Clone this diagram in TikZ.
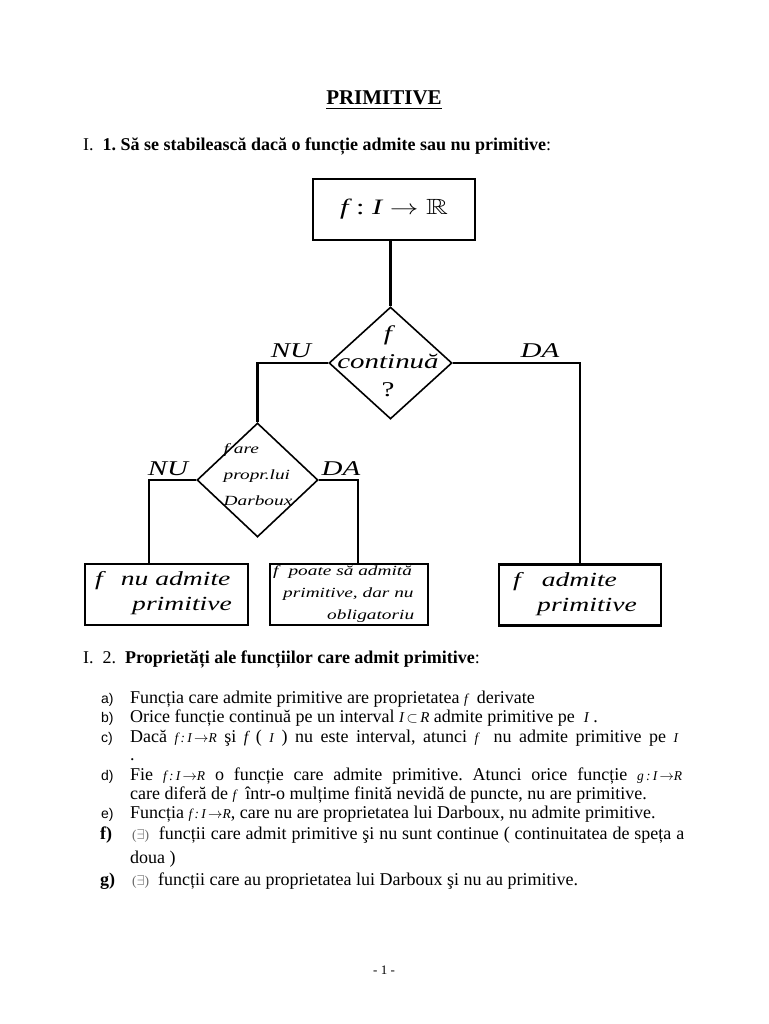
\documentclass[tikz,border=0pt]{standalone}
\usepackage{amssymb}
\usepackage{graphicx}
\usepackage{fontspec}
\setmainfont{Liberation Serif}
\newfontfamily\chartfont[FakeStretch=1.38]{Liberation Serif}
\newfontfamily\labelfont{Liberation Sans}
\usetikzlibrary{shapes.geometric,positioning}
\frenchspacing

\newcommand{\mi}[1]{{\fontsize{13.5}{16}\selectfont\itshape #1}}
\newcommand{\fmap}[1]{{\fontsize{13.5}{16}\selectfont\itshape #1\,:\,I\,$\rightarrow$R}}
\newcommand{\exsym}{{\fontsize{13.5}{16}\selectfont\color{black!60}($\exists$)}}

\begin{document}
\begin{tikzpicture}[x=1pt, y=-1pt,
    every node/.style={inner sep=0pt, font=\fontsize{18}{19.5}\selectfont},
    chartbox/.style={draw, line width=2.2pt, minimum height=61pt},
    decision/.style={draw, diamond, line width=1.6pt},
    chartline/.style={line width=2.2pt},
    branch/.style={anchor=base, font=\chartfont\itshape\fontsize{21}{25}\selectfont},
    charttext/.style={align=left, font=\chartfont\itshape\fontsize{20}{25}\selectfont},
    itemlabel/.style={anchor=base west, font=\labelfont\fontsize{14}{16}\selectfont},
    itemtext/.style={anchor=base west}
]
\fill[white] (0,0) rectangle (768,1024);
\useasboundingbox (0,0) rectangle (768,1024);

% title and first heading
\node[anchor=base, font=\bfseries\fontsize{21}{24}\selectfont] (title) at (384,105) {\underline{PRIMITIVE}};
\node[itemtext] (head1) at (83,151) {I.\ \ \textbf{1. Să se stabilească dacă o funcție admite sau nu primitive}:};

% flowchart
\node[chartbox, minimum width=162pt] (dom) at (394,209.5) {};
\node[font=\fontsize{22}{25}\selectfont] (domtext) at (dom.center) {\scalebox{1.38}[1]{\itshape f~\upshape:~\itshape I~$\rightarrow$~$\mathbb{R}$}};

\node[decision, minimum width=123pt, minimum height=112pt] (cont) at (390.5,363) {};
\node[charttext, align=center, font=\chartfont\itshape\fontsize{21}{28}\selectfont] (conttext) at (388,361) {f\\continuă\\{\upshape ?}};

\node[decision, minimum width=121pt, minimum height=114pt] (darb) at (257.5,480) {};
\node[charttext, font=\chartfont\itshape\fontsize{14}{26}\selectfont] (darbtext) at (258,475) {f are\\propr.lui\\Darboux};

\node[chartbox, minimum width=163pt] (nobox) at (166.5,594.5) {};
\node[charttext, anchor=west] (notext) at (95,593) {f\hspace{18pt}nu admite\\\hspace*{37pt}primitive};

\node[chartbox, minimum width=158pt] (maybebox) at (349,594.5) {};
\node[charttext, anchor=west, font=\chartfont\itshape\fontsize{14}{22}\selectfont] (maybetext) at (273,594) {f\hspace{10pt}poate să admită\\\hspace*{10pt}primitive, dar nu\\\hspace*{54pt}obligatoriu};

\node[chartbox, minimum width=162pt] (yesbox) at (580,595) {};
\node[charttext, anchor=west] (yestext) at (513,594) {f\hspace{21pt}admite\\\hspace*{24pt}primitive};

\coordinate (nocorner) at (149,480);
\coordinate (dacorner) at (358,480);

\draw[chartline] (dom.south -| cont.north) -- (cont.north);
\draw[chartline] (cont.west) -| (darb.north);
\draw[chartline] (cont.east) -| (yesbox.north);
\draw[chartline] (darb.west) -- (nocorner) -- (nocorner |- nobox.north);
\draw[chartline] (darb.east) -- (dacorner) -- (dacorner |- maybebox.north);

\node[branch] (nu1) at (291,357) {NU};
\node[branch] (da1) at (540,357) {DA};
\node[branch] (nu2) at (168,475) {NU};
\node[branch] (da2) at (341,475) {DA};

% properties
\node[itemtext] (head2) at (83,663) {I.\ \ 2.\ \ \textbf{Proprietăți ale funcțiilor care admit primitive}:};

\foreach \lab/\ybase in {a)/703, b)/722, c)/742, d)/780, e)/818} {
    \node[itemlabel] (lab\ybase) at (101,\ybase) {\lab};
}
\node[itemtext, font=\bfseries\fontsize{18}{19.5}\selectfont] (labf) at (100,839) {f)};
\node[itemtext, font=\bfseries\fontsize{18}{19.5}\selectfont] (labg) at (100,885) {g)};

\node[itemtext] (itema) at (130,703) {Funcția care admite primitive are proprietatea \mi{f}\ \ derivate};
\node[itemtext] (itemb) at (130,722) {Orice funcție continuă pe un interval {\fontsize{15}{16}\selectfont\itshape I\,$\subset$\,R} admite primitive pe \ {\fontsize{15}{16}\selectfont\itshape I} .};
\node[itemtext] (itemc) at (130,742) {\makebox[548pt][s]{Dacă \fmap{f} şi {\fontsize{16}{16}\selectfont\itshape f} ( \mi{I} ) nu este interval, atunci \mi{f}\ \ nu admite primitive pe \mi{I}}};
\node[itemtext] (itemcdot) at (130,760) {.};
\node[itemtext] (itemd) at (130,780) {\makebox[552pt][s]{Fie \fmap{f} o funcție care admite primitive. Atunci orice funcție \fmap{g}}};
\node[itemtext] (itemdd) at (130,799) {care diferă de \mi{f}\ \ într-o mulțime finită nevidă de puncte, nu are primitive.};
\node[itemtext] (iteme) at (130,818) {Funcția \fmap{f}, care nu are proprietatea lui Darboux, nu admite primitive.};
\node[itemtext] (itemf) at (132,839) {\makebox[552pt][s]{\exsym\ \ funcții care admit primitive şi nu sunt continue ( continuitatea de speța a}};
\node[itemtext] (itemff) at (130,863) {doua )};
\node[itemtext] (itemg) at (132,885) {\exsym\ \ funcții care au proprietatea lui Darboux şi nu au primitive.};

\node[font=\fontsize{13}{15}\selectfont] (pagenum) at (384,970) {- 1 -};
\end{tikzpicture}
\end{document}
